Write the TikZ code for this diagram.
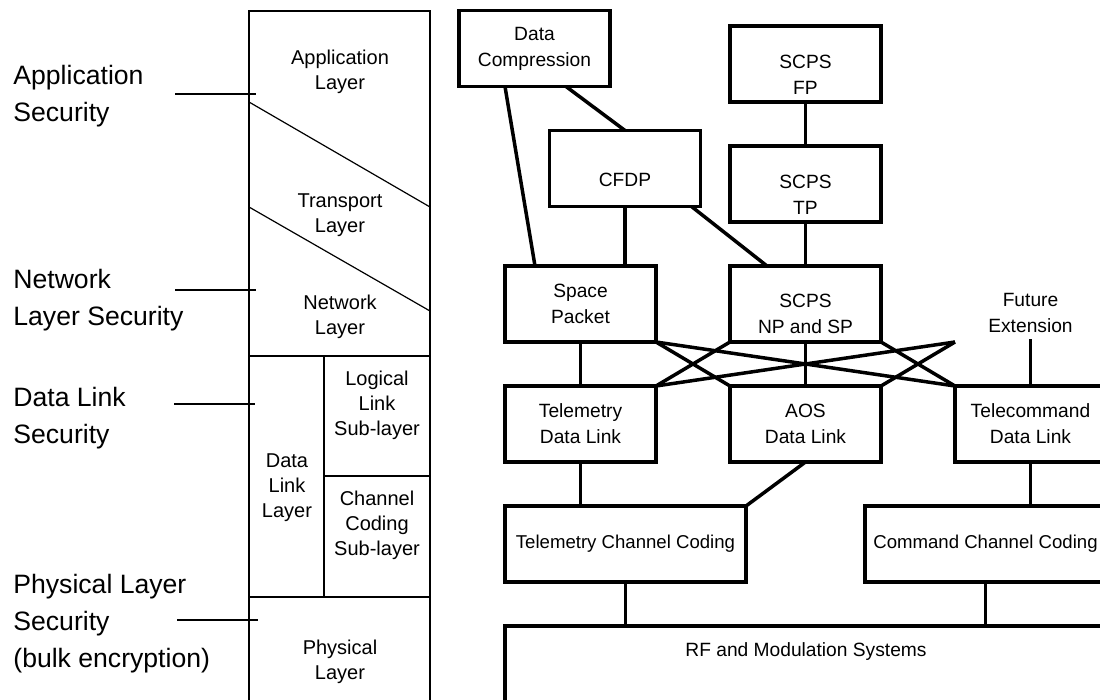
\documentclass[tikz,border=0pt]{standalone}
\usepackage{fontspec}
\setmainfont{Liberation Sans}
\usetikzlibrary{positioning}

\tikzset{
  block/.style={draw, line width=1.75pt, minimum width=75.5pt, minimum height=38pt,
    inner sep=0pt, outer sep=0pt, align=center, font=\fontsize{9.6}{13}\selectfont},
  txt/.style={align=center, font=\fontsize{9.6}{13}\selectfont},
  wire/.style={line width=1.75pt},
  stackline/.style={line width=0.6pt},
  layertxt/.style={align=center, font=\fontsize{10}{12.5}\selectfont},
  seclabel/.style={anchor=west, align=left, inner sep=0pt, font=\fontsize{13.3}{18.5}\selectfont},
  secline/.style={line width=0.65pt},
}

\begin{document}
\begin{tikzpicture}[x=0.5pt, y=-0.5pt, node distance=22pt and 37pt] % layers and protocols
    \useasboundingbox (0,0) rectangle (1100,700);
    \clip (0,0) rectangle (1100,700);

    % layer stack
    \draw[stackline] (249,11) rectangle (430,720);
    \draw[stackline] (249,102) -- (430,207);
    \draw[stackline] (249,207) -- (430,311);
    \draw[stackline] (249,356) -- (430,356);
    \draw[stackline] (324,356) -- (324,597);
    \draw[stackline] (324,476) -- (430,476);
    \draw[stackline] (249,597) -- (430,597);

    \node[layertxt] (app) at (340,72) {Application\\Layer};
    \node[layertxt] (trans) at (340,215) {Transport\\Layer};
    \node[layertxt] (net) at (340,317) {Network\\Layer};
    \node[layertxt] (llc) at (377,405) {Logical\\Link\\Sub-layer};
    \node[layertxt] (dll) at (287,488) {Data\\Link\\Layer};
    \node[layertxt] (ccs) at (377,525) {Channel\\Coding\\Sub-layer};
    \node[layertxt] (phy) at (340,662) {Physical\\Layer};

    % security labels
    \node[seclabel] (appsec) at (13,96) {Application\\Security};
    \node[seclabel] (netsec) at (13,300) {Network\\Layer Security};
    \node[seclabel] (dlsec) at (13,418) {Data Link\\Security};
    \node[seclabel] (physec) at (13,624) {Physical Layer\\Security\\(bulk encryption)};

    \coordinate (appa) at (175,94);  \coordinate (appb) at (256,94);
    \coordinate (neta) at (175,290); \coordinate (netb) at (256,290);
    \coordinate (dla) at (174,404);  \coordinate (dlb) at (255,404);
    \coordinate (phya) at (177,620); \coordinate (phyb) at (258,620);
    \draw[secline] (appa) -- (appb);
    \draw[secline] (neta) -- (netb);
    \draw[secline] (dla) -- (dlb);
    \draw[secline] (phya) -- (phyb);

    % protocol boxes
    \node[block] (dc) at (534.5,48.5) {Data\\Compression};
    \node[block, label={[txt, yshift=-5.5pt]center:CFDP}] (cfdp) at (625,168.5) {};
    \node[block, label={[txt, yshift=-5pt]center:SCPS\\NP and SP}] (np) at (805.5,304) {};
    \node[block, above=of np, label={[txt, yshift=-5.5pt]center:SCPS\\TP}] (tp) {};
    \node[block, above=of tp, label={[txt, yshift=-5.5pt]center:SCPS\\FP}] (fp) {};
    \node[block, left=of np] (sp) {Space\\Packet};
    \node[block, below=of np] (aos) {AOS\\Data Link};
    \node[block, below=of sp] (tmdl) {Telemetry\\Data Link};
    \node[block, right=of aos] (tcdl) {Telecommand\\Data Link};
    \node[block, minimum width=120.5pt, font=\fontsize{9.3}{13}\selectfont,
        below=of tmdl.south west, anchor=north west] (tmcc) {Telemetry Channel Coding};
    \node[block, minimum width=120.5pt, font=\fontsize{9.3}{13}\selectfont,
        below=of tcdl.south east, anchor=north east] (cmdcc) {Command Channel Coding};
    \node[block, minimum width=301pt, minimum height=70pt, below=of tmcc.south west, anchor=north west,
        label={[txt, anchor=center, yshift=-13pt]north:RF and Modulation Systems}] (rf) {};
    \node[txt] (fe) at (1030.5,312.5) {Future\\Extension};
    \coordinate (fx) at (tcdl.north west |- np.south);

    % connections
    \draw[wire] ([xshift=23pt]dc.south west) -- ([xshift=15pt]sp.north west);
    \draw[wire] ([xshift=-22pt]dc.south east) -- (cfdp.north);
    \draw[wire] (cfdp.south) -- (cfdp.south |- sp.north);
    \draw[wire] ([xshift=-4.5pt]cfdp.south east) -- ([xshift=18.5pt]np.north west);
    \draw[wire] (fp.south) -- (tp.north);
    \draw[wire] (tp.south) -- (np.north);
    \draw[wire] (sp.south) -- (tmdl.north);
    \draw[wire] (np.south) -- (aos.north);
    \draw[wire] (sp.south east) -- (aos.north west);
    \draw[wire] (sp.south east) -- (tcdl.north west);
    \draw[wire] (np.south west) -- (tmdl.north east);
    \draw[wire] (np.south east) -- (tcdl.north west);
    \draw[wire] (fx) -- (tmdl.north east);
    \draw[wire] (fx) -- (aos.north east);
    \draw[wire] (fe.south) -- (tcdl.north);
    \draw[wire] (tmdl.south) -- (tmdl.south |- tmcc.north);
    \draw[wire] (aos.south) -- (tmcc.north east);
    \draw[wire] (tcdl.south) -- (tcdl.south |- cmdcc.north);
    \draw[wire] (tmcc.south) -- (tmcc.south |- rf.north);
    \draw[wire] (cmdcc.south) -- (cmdcc.south |- rf.north);
\end{tikzpicture}
\end{document}
